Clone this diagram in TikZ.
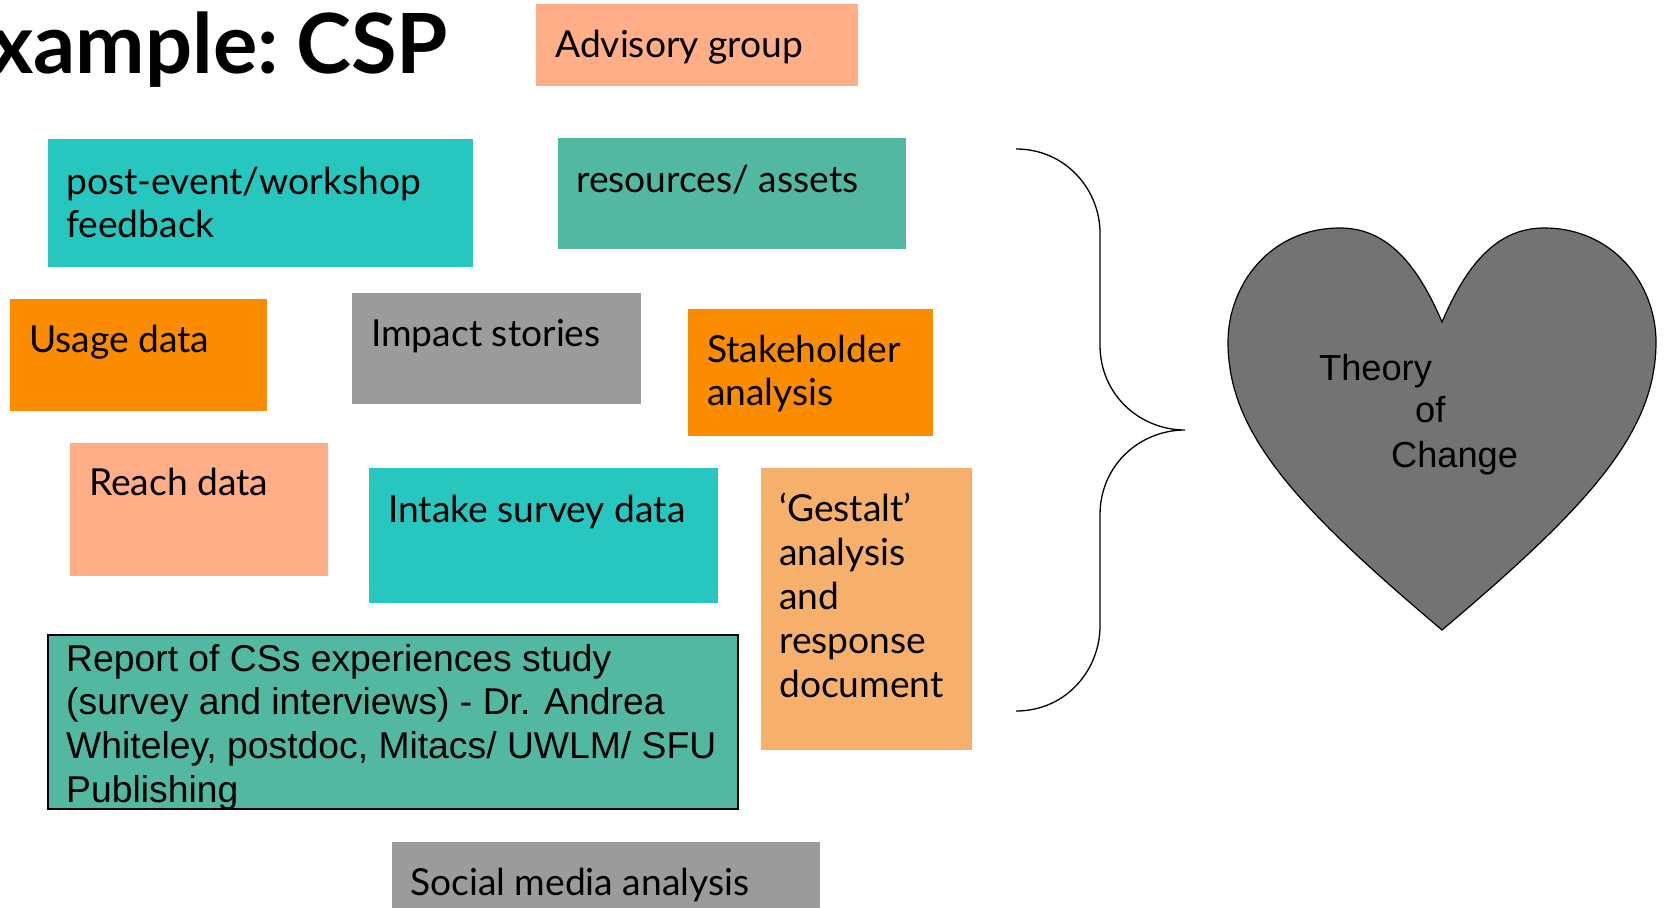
\documentclass[tikz,border=0pt]{standalone}
\usepackage{fontspec}
\setmainfont{Lato}
\newfontfamily\arialf{Liberation Sans}
\definecolor{salmon}{HTML}{FFAE88}
\definecolor{turq}{HTML}{27C6BE}
\definecolor{teal}{HTML}{52B8A2}
\definecolor{orng}{HTML}{FB8C00}
\definecolor{gry}{HTML}{9B9B9B}
\definecolor{lorng}{HTML}{F6B06B}
\definecolor{heartgray}{HTML}{737373}
\newcommand{\mystack}[1]{\vtop{\halign{##\hfil\cr#1\crcr}}}
\tikzset{
  box/.style={anchor=north west, inner sep=0pt, outer sep=0pt, draw=none},
  txt/.style={anchor=base west, inner sep=0pt, font=\fontsize{37.2}{43}\selectfont},
  rtxt/.style={anchor=base west, inner sep=0pt, font=\arialf\fontsize{37.3}{43.7}\selectfont},
  htxt/.style={anchor=base west, inner sep=0pt, font=\arialf\fontsize{36.2}{42}\selectfont},
}
\begin{document}
\begin{tikzpicture}[x=1pt,y=-1pt]
\useasboundingbox (0,0) rectangle (1664,907);
% title
\node[anchor=base east, inner sep=0pt, font=\bfseries\fontsize{83}{90}\selectfont] (title) at (448,74) {xample:\kern-3pt\ CSP};
% boxes
\node[box, fill=salmon, minimum width=322pt, minimum height=82pt] (adv) at (536,4) {};
\node[txt] (advt) at (555,58) {Advisory group};
\node[box, fill=turq, minimum width=425pt, minimum height=128pt] (post) at (48,139) {};
\node[txt] (postt) at (66,194) {\mystack{post-event/workshop\cr feedback}};
\node[box, fill=teal, minimum width=348pt, minimum height=111pt] (res) at (558,138) {};
\node[txt] (rest) at (576,192) {resources/ assets};
\node[box, fill=orng, minimum width=257pt, minimum height=112pt] (usage) at (10,299) {};
\node[txt] (usaget) at (29,352) {Usage data};
\node[box, fill=gry, minimum width=289pt, minimum height=111pt] (impact) at (352,293) {};
\node[txt] (impactt) at (371,346) {Impact stories};
\node[box, fill=orng, minimum width=245pt, minimum height=127pt] (stake) at (688,309) {};
\node[txt] (staket) at (707,362) {\mystack{Stakeholder\cr analysis}};
\node[box, fill=salmon, minimum width=258pt, minimum height=133pt] (reach) at (70,443) {};
\node[txt] (reacht) at (89,495) {Reach data};
\node[box, fill=turq, minimum width=349pt, minimum height=135pt] (intake) at (369,468) {};
\node[txt] (intaket) at (388,522) {Intake survey data};
\node[box, fill=lorng, minimum width=211pt, minimum height=282pt] (gest) at (761,468) {};
\node[txt, font=\fontsize{37.2}{44}\selectfont] (gestt) at (779,521) {\mystack{‘Gestalt’\cr analysis\cr and\cr response\cr document}};
\node[box, fill=teal, draw=black, line width=1.5pt, minimum width=690pt, minimum height=174pt] (report) at (48,635) {};
\node[rtxt] (reportt) at (66,671) {\mystack{Report of CSs experiences study\cr (survey and interviews) - Dr. Andrea\cr Whiteley, postdoc, Mitacs/ UWLM/ SFU\cr Publishing}};
\node[box, fill=gry, minimum width=428pt, minimum height=70pt] (social) at (392,842) {};
\node[txt] (socialt) at (410,895) {Social media analysis};
% brace
\coordinate (btop) at (1016,149);
\coordinate (btip) at (1185,430);
\coordinate (bbot) at (1016,711);
\draw[line width=1.3pt] (btop) .. controls (1066,149) and (1100,190) .. (1100,233)
  -- (1100,345) .. controls (1100,395) and (1140,430) .. (btip)
  .. controls (1140,430) and (1100,465) .. (1100,515)
  -- (1100,626) .. controls (1100,670) and (1066,711) .. (bbot);
% heart
\coordinate (dip) at (1442,322);
\coordinate (hbot) at (1442,630);
\draw[fill=heartgray, line width=1.2pt] (dip)
  .. controls (1418,266) and (1388,228) .. (1340,228)
  .. controls (1270,228) and (1228,285) .. (1228,342)
  .. controls (1228,432) and (1294,505) .. (hbot)
  .. controls (1590,505) and (1656,432) .. (1656,342)
  .. controls (1656,285) and (1614,228) .. (1544,228)
  .. controls (1496,228) and (1466,266) .. (dip) -- cycle;
\node[htxt] (th1) at (1319,380) {Theory};
\node[htxt] (th2) at (1415,422) {of};
\node[htxt] (th3) at (1391,467) {Change};
\end{tikzpicture}
\end{document}
